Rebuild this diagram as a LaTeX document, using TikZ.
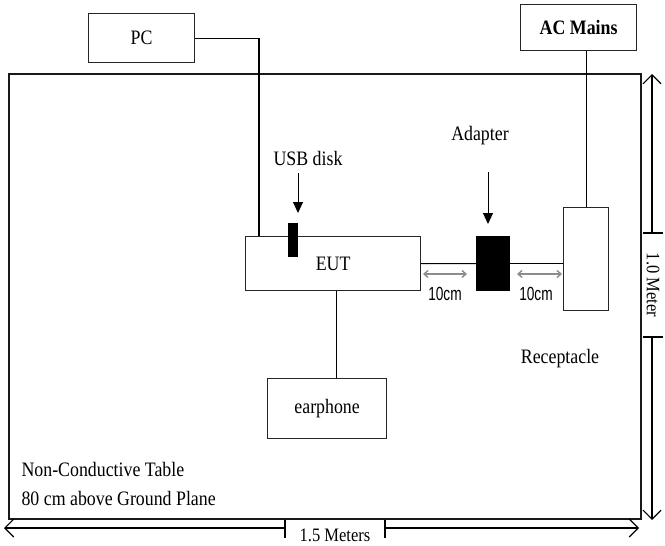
\documentclass[tikz,border=0pt]{standalone}
\usepackage{fontspec}
\setmainfont{Liberation Serif}[FakeStretch=0.87]
\setsansfont{Liberation Sans}[FakeStretch=0.72]
\usetikzlibrary{arrows.meta}
\begin{document}
\begin{tikzpicture}[x=1pt,y=-1pt,line width=1.1pt,
  txt/.style={font=\fontsize{20.5}{23}\selectfont, inner sep=0pt},
  smalltxt/.style={font=\fontsize{19}{21}\selectfont, inner sep=0pt},
  cmtxt/.style={font=\sffamily\fontsize{19}{21}\selectfont, inner sep=0pt},
  box/.style={draw=black!85, line width=1.2pt, inner sep=0pt, anchor=north west, txt},
  blk/.style={draw=black, fill=black, inner sep=0pt, anchor=north west},
  ptr/.style={-{Triangle[length=11pt,width=10pt]}, line width=1pt},
  dim/.style={line width=1.1pt, {Straight Barb[length=9pt,width=18pt]}-{Straight Barb[length=9pt,width=18pt]}},
  dimone/.style={line width=1.1pt, -{Straight Barb[length=9pt,width=18pt]}},
  gap/.style={draw=black!45, line width=1.4pt, {Straight Barb[length=4pt,width=7pt]}-{Straight Barb[length=4pt,width=7pt]}}]
\useasboundingbox (0,0) rectangle (665,546);

% table
\node[draw=black!90, line width=2.2pt, anchor=north west, minimum width=632pt, minimum height=445pt, inner sep=0pt] (table) at (8,73) {};

% boxes
\node[box, minimum width=106pt, minimum height=49pt] (pc) at (88,13) {PC};
\node[box, minimum width=116pt, minimum height=46pt, font=\bfseries\fontsize{20.5}{23}\selectfont] (ac) at (520,4) {AC Mains};
\node[box, minimum width=175pt, minimum height=54pt] (eut) at (245,236) {EUT};
\node[blk, minimum width=9pt, minimum height=33pt] (usb) at (288,223) {};
\node[blk, minimum width=33pt, minimum height=54pt] (adp) at (476,236) {};
\node[box, minimum width=45pt, minimum height=103pt] (rec) at (563,207) {};
\node[box, minimum width=119pt, minimum height=60pt] (ear) at (267,378) {earphone};

% connectors
\draw (pc.east) -| ([xshift=14pt]eut.north west);
\draw (rec.north) -- (rec.north |- ac.south);
\draw (eut.east) -- (adp.west);
\draw (adp.east) -- (rec.west |- adp.east);
\draw ([xshift=3.5pt]eut.south) -- ([xshift=3.5pt]eut.south |- ear.north);

% labels and pointers
\node[txt, anchor=base] (usbl) at (308,165) {USB disk};
\coordinate (usbA) at (298,173);
\coordinate (usbB) at (298,213);
\draw[ptr] (usbA) -- (usbB);
\node[txt, anchor=base] (adpl) at (480,140) {Adapter};
\coordinate (adpA) at (488,172);
\coordinate (adpB) at (488,224);
\draw[ptr] (adpA) -- (adpB);
\node[txt, anchor=base] (recl) at (560,363) {Receptacle};

% 10cm gaps
\coordinate (g1a) at (423,274); \coordinate (g1b) at (467,274);
\coordinate (g2a) at (517,274); \coordinate (g2b) at (562,274);
\draw[gap] (g1a) -- (g1b);
\draw[gap] (g2a) -- (g2b);
\node[cmtxt, anchor=base] (c1) at (445,300) {10cm};
\node[cmtxt, anchor=base] (c2) at (536,300) {10cm};

% table text
\node[txt, anchor=base west] (t1) at (21,476) {Non-Conductive Table};
\node[txt, anchor=base west] (t2) at (21,505) {80 cm above Ground Plane};

% bottom dimension
\coordinate (bl) at (4,528); \coordinate (bt1) at (285,528);
\coordinate (bt2) at (385,528); \coordinate (br) at (639,528);
\draw[dimone] (bt1) -- (bl);
\draw[dimone] (bt2) -- (br);
\draw (285,520) -- (285,538);
\draw (385,520) -- (385,538);
\node[smalltxt, anchor=base] (bw) at (335,541) {1.5 Meters};

% right dimension
\coordinate (rt) at (652,74); \coordinate (rt1) at (652,233);
\coordinate (rt2) at (652,337); \coordinate (rb) at (652,520);
\draw[dimone] (rt1) -- (rt);
\draw[dimone] (rt2) -- (rb);
\draw (643,233) -- (663,233);
\draw (643,337) -- (663,337);
\node[smalltxt, rotate=-90] (rh) at (653,285) {1.0 Meter};
\end{tikzpicture}
\end{document}
